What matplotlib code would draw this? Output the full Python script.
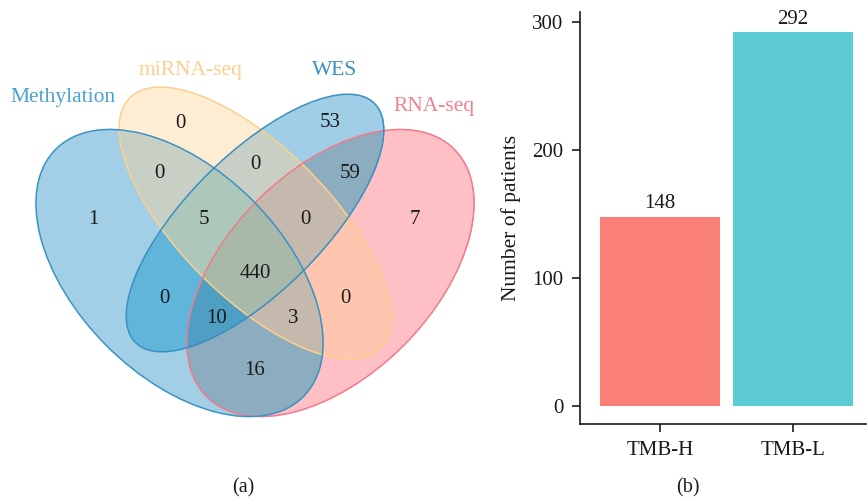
import matplotlib

matplotlib.use("Agg")

import numpy as np
import matplotlib.pyplot as plt
from matplotlib.colors import to_rgba
from matplotlib.patches import Ellipse

plt.rcParams["font.family"] = ["Liberation Serif", "DejaVu Serif"]

# Venn data: sets and region counts (membership code: Meth, miRNA, WES, RNA)
set_names = ["Methylation", "miRNA-seq", "WES", "RNA-seq"]
region_codes = ["1000", "0100", "0010", "0001",
                "1100", "0110", "0011", "1010", "0101", "1001",
                "1110", "0111", "1011", "1101", "1111"]
region_counts = [1, 0, 53, 7,
                 0, 0, 59, 0, 0, 16,
                 5, 0, 10, 3, 440]

# Bar data
groups = ["TMB-H", "TMB-L"]
patients = [148, 292]

# ---- layout (pixel units of the left panel, y down) ----
ellipse_geom = {
    # centre x, centre y, semi-major, semi-minor, angle
    "Methylation": (179.5, 273, 175, 103, 45),
    "miRNA-seq": (255, 223, 177, 75, 45),
    "WES": (255, 223, 169, 68, -45),
    "RNA-seq": (330.5, 273, 175, 103, -45),
}
edge_cols = {"Methylation": "#3a93c4", "miRNA-seq": "#fcd08c",
             "WES": "#3a8fc2", "RNA-seq": "#f27a8a"}
label_cols = {"Methylation": "#4aa3d0", "miRNA-seq": "#fdcf8e",
              "WES": "#3a8fc2", "RNA-seq": "#f47f8f"}
# colour of every overlap region as it appears in the figure
region_fill = {
    "1000": "#a2cfe6", "0100": "#feecd3", "0010": "#a0cee6", "0001": "#fec0c5",
    "1100": "#c8cfc4", "0110": "#c8cfc4", "0011": "#8cacbf",
    "1010": "#62b5da", "0101": "#fec5af", "1001": "#8cacbf",
    "1110": "#adc8bb", "0111": "#c4b9ac", "1011": "#4f9fc5",
    "1101": "#c4b9ac", "1111": "#a8b9a9",
}
outline_order = ["miRNA-seq", "RNA-seq", "Methylation", "WES"]
name_pos = {"Methylation": (63, 97), "miRNA-seq": (190, 70),
            "WES": (335, 70), "RNA-seq": (434, 106)}
label_pos = {
    "1000": (93, 219), "0100": (180, 123), "0010": (330, 122), "0001": (415, 219),
    "1100": (159, 173), "0110": (255, 164), "0011": (350, 173),
    "1010": (164, 298), "0101": (345, 298), "1001": (255, 370),
    "1110": (204, 219), "0111": (305, 219), "1011": (217, 318),
    "1101": (293, 318), "1111": (255, 273),
}

fig = plt.figure(figsize=(8.67, 4.98), dpi=100)

# Venn panel
axv = fig.add_axes([0, 0, 490 / 867, 1])
axv.set_xlim(0, 490)
axv.set_ylim(498, 0)
axv.axis("off")

# region membership on a fine grid
gx = np.arange(0, 490, 0.5) + 0.25
gy = np.arange(0, 498, 0.5) + 0.25
X, Y = np.meshgrid(gx, gy)
idx = np.zeros(X.shape, dtype=int)
for k, name in enumerate(set_names):
    cx, cy, a, b, ang = ellipse_geom[name]
    t = np.deg2rad(ang)
    u = (X - cx) * np.cos(t) + (Y - cy) * np.sin(t)
    v = -(X - cx) * np.sin(t) + (Y - cy) * np.cos(t)
    inside = (u / a) ** 2 + (v / b) ** 2 <= 1
    idx += inside.astype(int) << (3 - k)
lut = np.zeros((16, 4))
for code, col in region_fill.items():
    lut[int(code, 2)] = to_rgba(col)
axv.imshow(lut[idx], extent=(0, 490, 498, 0), origin="upper",
           interpolation="nearest", zorder=1)

for name in outline_order:
    cx, cy, a, b, ang = ellipse_geom[name]
    axv.add_patch(Ellipse((cx, cy), 2 * a, 2 * b, angle=ang, zorder=2,
                          facecolor="none", edgecolor=edge_cols[name], lw=1.1))
for name in set_names:
    x, y = name_pos[name]
    axv.text(x, y, name, ha="center", va="center", fontsize=15.5,
             color=label_cols[name])
for code, n in zip(region_codes, region_counts):
    x, y = label_pos[code]
    axv.text(x, y, str(n), ha="center", va="center", fontsize=15,
             color="#1a1a1a", zorder=3)

# Bar panel
ax = fig.add_axes([580 / 867, 74 / 498, 286 / 867, 412 / 498])
xpos = range(len(groups))
ax.bar(xpos, patients, width=0.9, color=["#fa7f76", "#5ccbd3"])
for x, v in zip(xpos, patients):
    ax.text(x, v + 3, str(v), ha="center", va="bottom", fontsize=15,
            color="#1a1a1a")
ax.set_xlim(-0.6, 1.55)
ax.set_ylim(-14, 308)
ax.set_yticks([0, 100, 200, 300])
ax.set_xticks(list(xpos))
ax.set_xticklabels(groups)
ax.set_ylabel("Number of patients", fontsize=15.5, color="#1a1a1a", labelpad=8)
ax.tick_params(labelsize=15, length=6, width=1.2, pad=6, colors="#1a1a1a")
for s in ["top", "right"]:
    ax.spines[s].set_visible(False)
for s in ["left", "bottom"]:
    ax.spines[s].set_linewidth(1.2)
    ax.spines[s].set_color("#1a1a1a")

fig.text(243 / 867, 10 / 498, "(a)", ha="center", va="center", fontsize=14.5,
         color="#1a1a1a")
fig.text(688 / 867, 10 / 498, "(b)", ha="center", va="center", fontsize=14.5,
         color="#1a1a1a")

fig.savefig("out.png", dpi=100)
